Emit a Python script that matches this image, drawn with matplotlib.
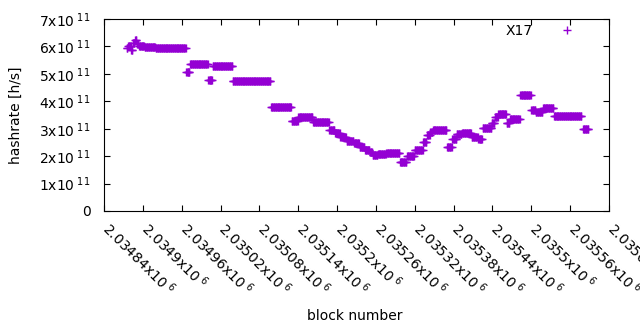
import numpy as np
import matplotlib
matplotlib.use("Agg")
import matplotlib.pyplot as plt
import matplotlib.transforms as mtransforms

# runs of equal hashrate: first block, last block, value (x1e11 h/s)
seg_start = [2034875, 2034877, 2034882, 2034885, 2034888, 2034891, 2034894, 2034903,
             2034920, 2034967, 2034973, 2035001, 2035008, 2035039, 2035098, 2035130,
             2035140, 2035163, 2035188, 2035197, 2035205, 2035215, 2035226, 2035235,
             2035243, 2035251, 2035255, 2035263, 2035276, 2035297, 2035308, 2035320,
             2035333, 2035339, 2035344, 2035348, 2035370, 2035378, 2035385, 2035393,
             2035408, 2035418, 2035425, 2035439, 2035444, 2035449, 2035462, 2035467,
             2035483, 2035500, 2035507, 2035518, 2035535, 2035580]
seg_end = [2034876, 2034881, 2034884, 2034887, 2034890, 2034893, 2034902, 2034919,
           2034966, 2034972, 2035000, 2035007, 2035038, 2035097, 2035129, 2035139,
           2035162, 2035187, 2035196, 2035204, 2035214, 2035225, 2035234, 2035242,
           2035250, 2035254, 2035262, 2035275, 2035296, 2035307, 2035319, 2035332,
           2035338, 2035343, 2035347, 2035369, 2035377, 2035384, 2035392, 2035407,
           2035417, 2035424, 2035438, 2035443, 2035448, 2035461, 2035466, 2035482,
           2035499, 2035506, 2035517, 2035534, 2035577, 2035588]
seg_value = [5.93, 6.02, 5.87, 6.12, 6.25, 6.09, 6.02, 5.99,
             5.93, 5.06, 5.35, 4.76, 5.28, 4.73, 3.79, 3.28,
             3.44, 3.24, 2.95, 2.83, 2.68, 2.55, 2.47, 2.34,
             2.22, 2.14, 2.04, 2.08, 2.11, 1.80, 2.01, 2.22,
             2.53, 2.77, 2.87, 2.95, 2.35, 2.61, 2.81, 2.83,
             2.71, 2.61, 3.02, 3.22, 3.42, 3.53, 3.20, 3.34,
             4.22, 3.68, 3.62, 3.74, 3.45, 2.98]

x_ticks = [2034840, 2034900, 2034960, 2035020, 2035080, 2035140, 2035200,
           2035260, 2035320, 2035380, 2035440, 2035500, 2035560, 2035620]
x_tick_labels = ["2.03484", "2.0349", "2.03496", "2.03502", "2.03508", "2.03514", "2.0352",
                 "2.03526", "2.03532", "2.03538", "2.03544", "2.0355", "2.03556", "2.03562"]
y_ticks = [0, 1, 2, 3, 4, 5, 6, 7]

# one point per block
blocks = []
hashrate = []
for a, b, v in zip(seg_start, seg_end, seg_value):
    for n in range(a, b + 1):
        blocks.append(n)
        hashrate.append(v * 1e11)

plt.rcParams['font.family'] = ['DejaVu Sans']
plt.rcParams['font.size'] = 10
plt.rcParams['mathtext.fontset'] = 'dejavusans'

fig = plt.figure(figsize=(6.4, 3.3), dpi=100)
ax = fig.add_axes([104 / 640, 1 - 211 / 330, 505 / 640, 192 / 330])

ax.plot(blocks, hashrate, linestyle='none', marker='+', ms=5.5, mew=1,
        color='#9400D3', label='X17')

ax.set_xlim(x_ticks[0], x_ticks[-1])
ax.set_ylim(0, 7e11)
ax.set_xticks(x_ticks)
ax.set_xticklabels([s + r'x10$^{\ 6}$' for s in x_tick_labels],
                   rotation=-45, ha='left', va='top', rotation_mode='anchor')
ax.set_yticks([t * 1e11 for t in y_ticks])
ax.set_yticklabels(['0'] + [f'{t}x10' + r'$^{\ 11}$' for t in y_ticks[1:]])

ax.tick_params(direction='in', length=4, width=0.8, top=True, right=True)
ax.tick_params(axis='y', pad=9.5)
ax.tick_params(axis='x', pad=6)
for s in ax.spines.values():
    s.set_linewidth(0.8)

# nudge the rotated labels so they start right at their tick
shift = mtransforms.ScaledTranslation(8 / 100, 0, fig.dpi_scale_trans)
for lab in ax.get_xticklabels():
    lab.set_transform(lab.get_transform() + shift)

ax.set_xlabel('block number')
ax.set_ylabel('hashrate [h/s]')
ax.xaxis.set_label_coords(0.496, -0.51)
ax.yaxis.set_label_coords(-0.16, 0.5)

ax.legend(loc='upper right', bbox_to_anchor=(0.9446, 0.974), frameon=False,
          markerfirst=False, borderpad=0, borderaxespad=0,
          handlelength=2, handletextpad=1.45)

plt.savefig('out.png', dpi=100)
